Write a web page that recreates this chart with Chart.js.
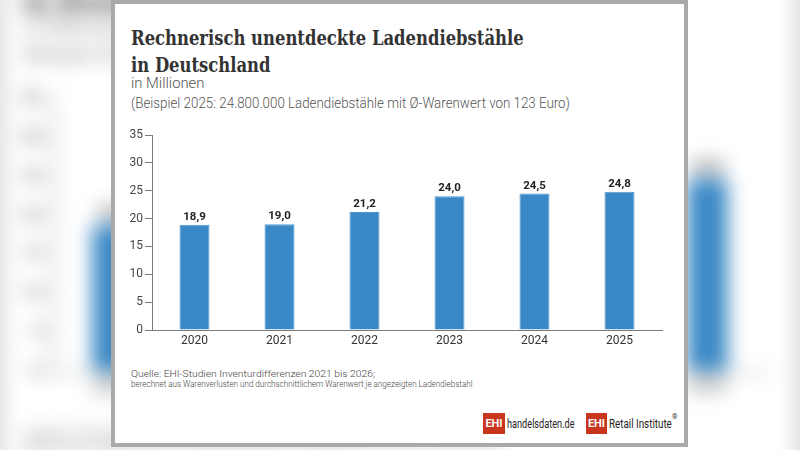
<!DOCTYPE html>
<html><head><meta charset="utf-8">
<script src="https://cdn.jsdelivr.net/npm/chart.js@4.4.1/dist/chart.umd.min.js"></script>
<style>
html,body{margin:0;padding:0;}
body{width:800px;height:450px;overflow:hidden;position:relative;background:#f3f3f4;font-family:Roboto,sans-serif;}
.layer{position:absolute;left:0;top:0;width:800px;height:450px;}
#bg{transform:scale(1.4);transform-origin:400px 225px;filter:blur(7px);}
.card{position:absolute;left:111px;top:0;width:577px;height:447px;box-sizing:border-box;border:4px solid #a8a9ab;background:#fff;}
.t{position:absolute;white-space:nowrap;transform-origin:0 50%;}
.title{font-family:"DejaVu Serif",serif;font-weight:bold;font-size:20px;line-height:20px;color:#333;}
.sub{font-family:Roboto,sans-serif;font-weight:300;color:#555;}
.foot{font-family:Roboto,sans-serif;font-weight:300;font-size:8.5px;line-height:9px;color:#444;}
.box{position:absolute;background:#c8361d;color:#fff;font:bold 11px/21px Roboto,sans-serif;text-align:center;}
.logo{font-family:Roboto,sans-serif;font-size:12px;line-height:14px;color:#222;}
.cv{position:absolute;left:112px;top:125px;width:560px;height:232px;}
</style>
</head><body>
<div id="bg" class="layer"></div>
<div id="fg" class="layer"></div>
<script>
const titleLines = ['Rechnerisch unentdeckte Ladendiebstähle', 'in Deutschland'];
const subtitle = 'in Millionen';
const note = '(Beispiel 2025: 24.800.000 Ladendiebstähle mit Ø-Warenwert von 123 Euro)';
const sourceLines = ['Quelle: EHI-Studien Inventurdifferenzen 2021 bis 2026;', 'berechnet aus Warenverlusten und durchschnittlichem Warenwert je angezeigten Ladendiebstahl'];
const years = ['2020', '2021', '2022', '2023', '2024', '2025'];
const values = [18.9, 19.0, 21.2, 24.0, 24.5, 24.8];
const yMin = 0, yMax = 35, yStep = 5;

function layerHTML(id) {
  return `<div class="card"></div>
  <div class="t title" data-w="393" data-grp="title" style="left:131px;top:28px">${titleLines[0]}</div>
  <div class="t title" data-grp="title" style="left:131px;top:55px">${titleLines[1]}</div>
  <div class="t sub" data-w="73" style="left:131px;top:75.5px;font-size:15px;line-height:15px">${subtitle}</div>
  <div class="t sub" data-w="439" style="left:131px;top:95.5px;font-size:14px;line-height:14px">${note}</div>
  <div class="cv"><canvas id="${id}" width="560" height="232"></canvas></div>
  <div class="t foot" data-w="244" style="left:131px;top:370px">${sourceLines[0]}</div>
  <div class="t foot" data-w="341" style="left:131px;top:379.5px">${sourceLines[1]}</div>
  <div class="box" style="left:483px;top:413px;width:22px;height:21px">EHI</div>
  <div class="t logo" data-w="68" style="left:507px;top:417px">handelsdaten.de</div>
  <div class="box" style="left:586px;top:413px;width:21px;height:21px">EHI</div>
  <div class="t logo" data-w="63" style="left:609px;top:417px">Retail Institute</div>
  <div class="t" style="left:672px;top:413px;font-size:7px;color:#333">®</div>`;
}
document.getElementById('bg').innerHTML = layerHTML('cbg');
document.getElementById('fg').innerHTML = layerHTML('cfg');

function fitTexts(layer) {
  let titleScale = 1;
  layer.querySelectorAll('.t[data-w]').forEach(el => {
    const s = parseFloat(el.dataset.w) / el.offsetWidth;
    el.style.transform = `scaleX(${s})`;
    if (el.dataset.grp === 'title') titleScale = s;
  });
  layer.querySelectorAll('.t[data-grp="title"]:not([data-w])').forEach(el => {
    el.style.transform = `scaleX(${titleScale})`;
  });
}

const valueLabels = {
  id: 'valueLabels',
  afterDatasetsDraw(chart) {
    const ctx = chart.ctx;
    const meta = chart.getDatasetMeta(0);
    ctx.save();
    ctx.font = 'bold 11.5px Roboto, sans-serif';
    ctx.fillStyle = '#222';
    ctx.textAlign = 'center';
    ctx.textBaseline = 'alphabetic';
    meta.data.forEach((bar, i) => {
      ctx.fillText(values[i].toFixed(1).replace('.', ','), bar.x, bar.y - 5);
    });
    ctx.restore();
  }
};

function makeChart(id) {
  return new Chart(document.getElementById(id), {
    type: 'bar',
    data: {
      labels: years,
      datasets: [{
        data: values,
        backgroundColor: '#3a88c5',
        borderColor: '#4f98d0',
        borderWidth: 1,
        barPercentage: 0.353,
        categoryPercentage: 1
      }]
    },
    options: {
      responsive: false,
      animation: false,
      devicePixelRatio: 1,
      layout: { padding: { left: 8, right: 10, top: 10, bottom: 0 } },
      plugins: { legend: { display: false }, tooltip: { enabled: false } },
      scales: {
        x: {
          grid: { display: false, drawTicks: false },
          border: { display: true, color: '#7a7a7a', width: 1 },
          ticks: { color: '#333', font: { family: 'Roboto', size: 12 }, padding: 4, maxRotation: 0 },
          afterFit: s => { s.height = 27; }
        },
        y: {
          min: yMin, max: yMax,
          grid: { drawOnChartArea: false, drawTicks: true, tickLength: 7, color: '#7a7a7a' },
          border: { display: true, color: '#7a7a7a', width: 1 },
          ticks: { stepSize: yStep, color: '#444', font: { family: 'Roboto', size: 12 }, padding: 2 },
          afterFit: s => { s.width = 32; }
        }
      }
    },
    plugins: [valueLabels]
  });
}

document.fonts.ready.then(() => {
  fitTexts(document.getElementById('fg'));
  fitTexts(document.getElementById('bg'));
  makeChart('cbg');
  makeChart('cfg');
});
</script>
</body></html>
